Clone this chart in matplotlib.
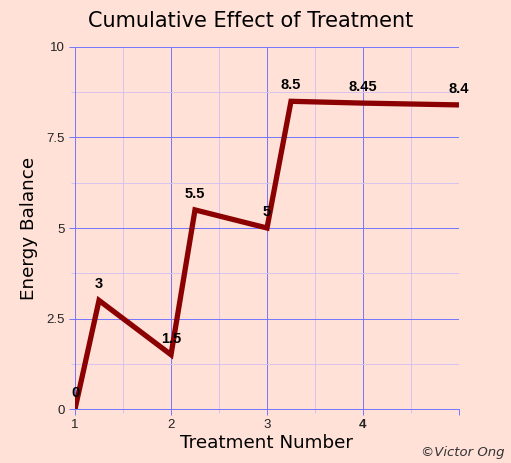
import matplotlib
matplotlib.use("Agg")
import matplotlib.pyplot as plt

treatment = [1, 1.25, 2, 2.25, 3, 3.25, 4, 5]
balance = [0, 3, 1.5, 5.5, 5, 8.5, 8.45, 8.4]
point_labels = ["0", "3", "1.5", "5.5", "5", "8.5", "8.45", "8.4"]
x_ticks = [1, 2, 3, 4, 5]
x_tick_labels = ["1", "2", "3", "4", ""]
x_minor = [1.5, 2.5, 3.5, 4.5]
y_ticks = [0, 2.5, 5, 7.5, 10]
y_tick_labels = ["0", "2.5", "5", "7.5", "10"]
y_minor = [1.25, 3.75, 6.25, 8.75]

bg = "#FFE1D8"
major = "#7878FF"
minor = "#D6C4EE"

fig = plt.figure(figsize=(5.11, 4.63), dpi=100, facecolor=bg)
ax = fig.add_axes([0.1468, 0.1166, 0.7514, 0.7819], facecolor=bg)

ax.plot(treatment, balance, color="#8B0000", linewidth=3.8, solid_capstyle="butt",
        solid_joinstyle="miter", zorder=3)
for x, y, s in zip(treatment, balance, point_labels):
    ax.annotate(s, (x, y), xytext=(0, 11.5), textcoords="offset points", ha="center",
                va="center", fontsize=10.5, fontweight="bold", family="Liberation Sans",
                zorder=4)

ax.set_xlim(1, 5)
ax.set_ylim(0, 10)
ax.set_xticks(x_ticks)
ax.set_xticklabels(x_tick_labels)
ax.set_xticks(x_minor, minor=True)
ax.set_yticks(y_ticks)
ax.set_yticklabels(y_tick_labels)
ax.set_yticks(y_minor, minor=True)
ax.grid(which="minor", color=minor, linewidth=0.72)
ax.grid(which="major", color=major, linewidth=0.72)
ax.set_axisbelow(True)

for side in ["top", "right"]:
    ax.spines[side].set_visible(False)
for side in ["left", "bottom"]:
    ax.spines[side].set_color(major)
    ax.spines[side].set_linewidth(0.72)

ax.tick_params(which="both", colors=major, length=4, width=0.72, labelcolor="#222222",
               labelsize=9.5)
ax.tick_params(which="minor", length=3, color=minor)
for lab in ax.get_xticklabels() + ax.get_yticklabels():
    lab.set_family("Liberation Sans")
ax.get_xticklabels()[3].set_fontweight("bold")

fig.text(0.49, 0.955, "Cumulative Effect of Treatment", ha="center", va="center",
         fontsize=15)
ax.set_xlabel("Treatment Number", fontsize=13.2, labelpad=2)
ax.set_ylabel("Energy Balance", fontsize=13.2, labelpad=6)

fig.text(0.988, 0.008, "©Victor Ong", ha="right", va="bottom", fontsize=9.5,
         style="italic", color="#333333")

fig.savefig("out.png", dpi=100, facecolor=bg)
